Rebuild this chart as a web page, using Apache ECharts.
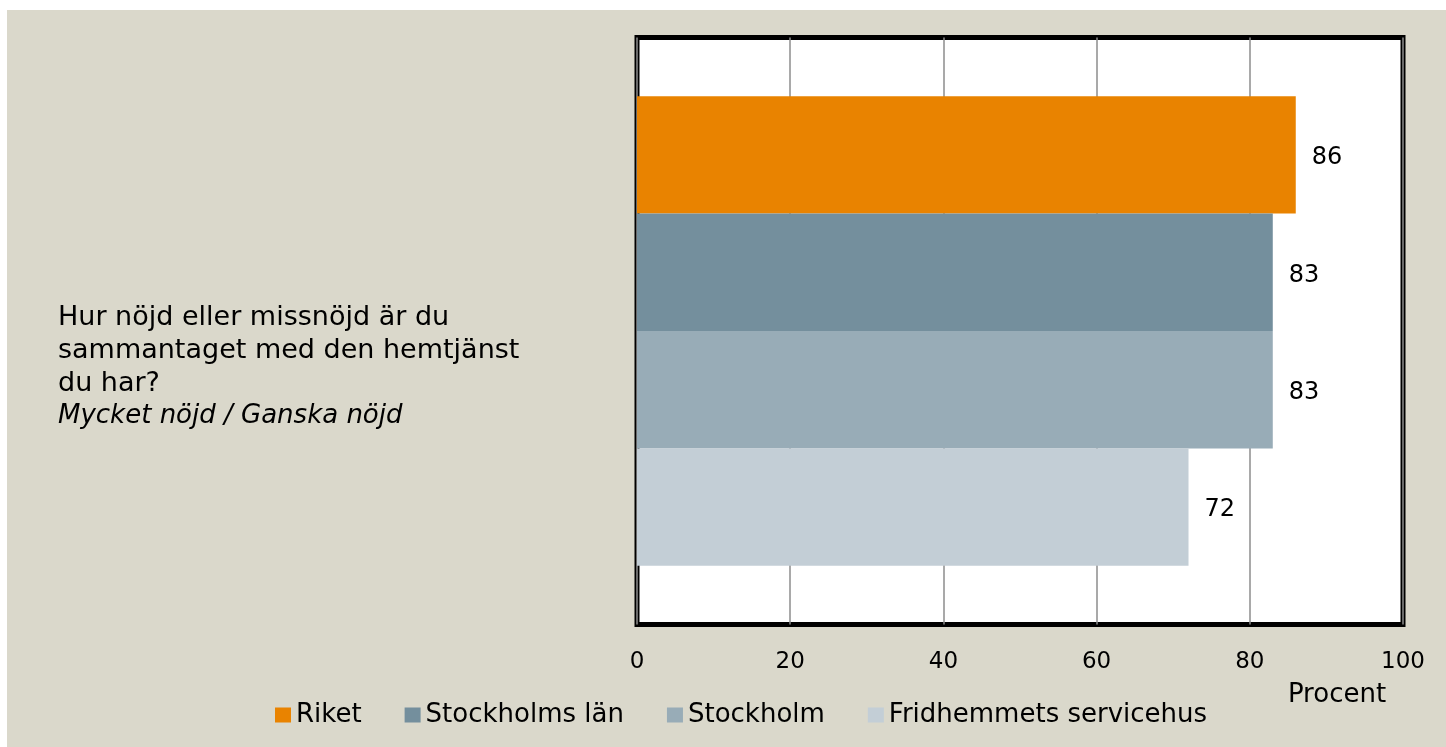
<!DOCTYPE html>
<html>
<head>
<meta charset="utf-8">
<script src="https://cdn.jsdelivr.net/npm/echarts@6/dist/echarts.min.js"></script>
<style>
  html, body { margin: 0; padding: 0; background: #ffffff; }
  #chart { position: absolute; left: 7px; top: 10px; width: 1439px; height: 737px; background: #dad8cb; }
</style>
</head>
<body>
<div id="chart"></div>
<script>
// data
const categories = ['Hur nöjd eller missnöjd är du sammantaget med den hemtjänst du har?'];
const seriesNames = ['Riket', 'Stockholms län', 'Stockholm', 'Fridhemmets servicehus'];
const riket = [86];
const stockholmsLan = [83];
const stockholm = [83];
const fridhemmet = [72];
const colors = ['#e98300', '#748f9d', '#98acb7', '#c3ced6'];

const questionLines = ['Hur nöjd eller missnöjd är du', 'sammantaget med den hemtjänst', 'du har?'];
const questionSub = 'Mycket nöjd / Ganska nöjd';
const axisTitle = 'Procent';

const font = 'DejaVu Sans';
const chart = echarts.init(document.getElementById('chart'));

const seriesData = [riket, stockholmsLan, stockholm, fridhemmet];

const option = {
  backgroundColor: 'transparent',
  animation: false,
  textStyle: { fontFamily: font },
  grid: {
    left: 630,
    right: 43,
    top: 27.5,
    bottom: 122.5,
    show: true,
    backgroundColor: '#ffffff',
    borderColor: '#000000',
    borderWidth: 5
  },
  legend: {
    left: 263,
    top: 687,
    icon: 'rect',
    itemWidth: 16,
    itemHeight: 15,
    itemGap: 43,
    textStyle: { fontFamily: font, fontSize: 26, color: '#000' },
    data: seriesNames
  },
  xAxis: {
    type: 'value',
    min: 0,
    max: 100,
    interval: 20,
    axisLine: { show: false },
    axisTick: { show: false },
    splitLine: { show: true, lineStyle: { color: '#8c8c8c', width: 1.5 } },
    axisLabel: { margin: 26, fontSize: 23, color: '#000', fontFamily: font }
  },
  yAxis: {
    type: 'category',
    inverse: true,
    data: categories,
    axisLine: { show: false },
    axisTick: { show: false },
    axisLabel: { show: false }
  },
  series: seriesNames.map((name, i) => ({
    name: name,
    type: 'bar',
    data: seriesData[i],
    barGap: '0%',
    barCategoryGap: '20%',
    itemStyle: { color: colors[i] },
    label: {
      show: true,
      position: 'right',
      distance: 16,
      offset: [0, 3],
      fontSize: 24,
      color: '#000',
      fontFamily: font
    }
  })),
  graphic: [
    {
      type: 'text',
      left: 51,
      top: 291,
      style: {
        text: questionLines.join('\n'),
        font: '27px "DejaVu Sans"',
        lineHeight: 33,
        fill: '#000'
      }
    },
    {
      type: 'text',
      left: 51,
      top: 390,
      style: {
        text: questionSub,
        font: 'italic 26px "DejaVu Sans"',
        lineHeight: 33,
        fill: '#000'
      }
    },
    {
      type: 'text',
      x: 1330,
      y: 685,
      style: {
        text: axisTitle,
        font: '26px "DejaVu Sans"',
        align: 'center',
        verticalAlign: 'middle',
        fill: '#000'
      }
    }
  ]
};

chart.setOption(option);
</script>
</body>
</html>
